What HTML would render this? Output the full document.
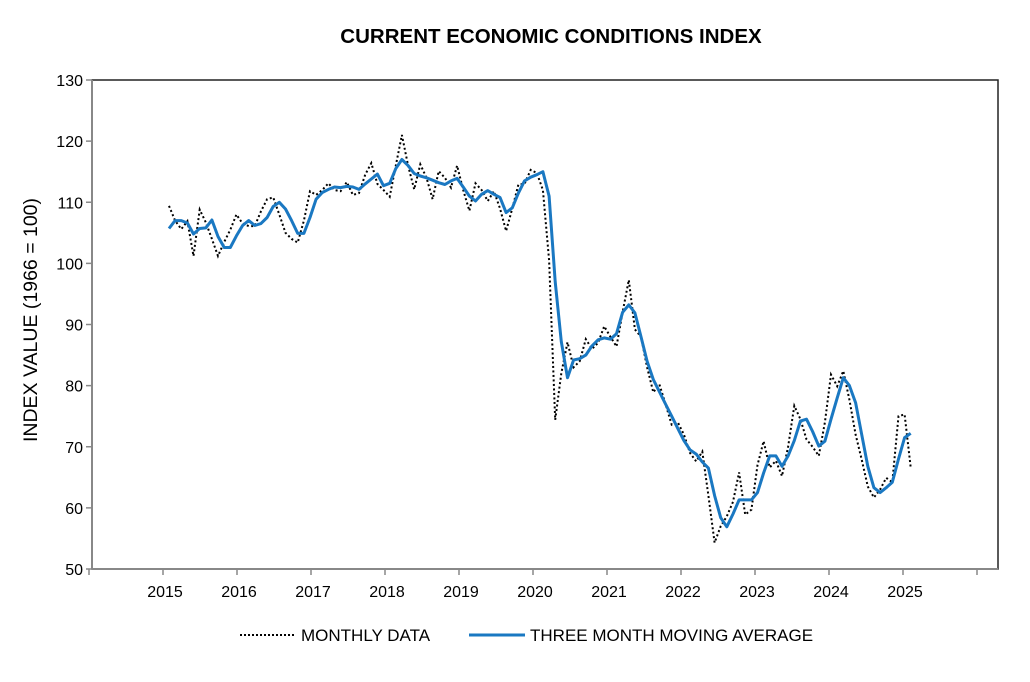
<!DOCTYPE html>
<html><head><meta charset="utf-8">
<style>
html,body{margin:0;padding:0;background:#fff;}
svg{display:block;font-family:"Liberation Sans",Arial,sans-serif;}
</style></head>
<body>
<svg id="chart" width="1030" height="682" viewBox="0 0 1030 682" xmlns="http://www.w3.org/2000/svg">
<text x="551" y="43" text-anchor="middle" font-size="20.5" font-weight="bold">CURRENT ECONOMIC CONDITIONS INDEX</text>
<text transform="translate(37,320) rotate(-90)" text-anchor="middle" font-size="19.5">INDEX VALUE (1966 = 100)</text>
<rect x="92" y="80" width="906" height="489" fill="none" stroke="#222" stroke-width="1.5"/>
<g id="axes"></g>
<g id="series"></g>
<g>
<line x1="240" y1="635" x2="296" y2="635" stroke="#000" stroke-width="2" stroke-dasharray="2,2"/>
<text x="301" y="641" font-size="17">MONTHLY DATA</text>
<line x1="469" y1="635" x2="525" y2="635" stroke="#1a78c2" stroke-width="3"/>
<text x="530" y="641" font-size="17">THREE MONTH MOVING AVERAGE</text>
</g>
</svg>
<script>
const yTicks = [50,60,70,80,90,100,110,120,130];
const xTickLabels = ["2015","2016","2017","2018","2019","2020","2021","2022","2023","2024","2025",""];
const monthly = [109.4,107,105.6,106.9,101.2,108.8,106.7,104,101.2,103.5,105.5,108,
106.5,106.1,106.1,108.5,110.5,110.8,108,105,104,103.4,107,111.8,
111.2,112,113.1,112,111.8,113.3,111.2,111.5,114.5,116.4,113,112,
110.9,116,121,116,112.1,116.2,114,110.5,115.1,114,112.4,116,
112,108.6,113.1,112,110.2,111.8,109,105.3,109,112.9,113,115.3,
114.8,112,100.5,74.4,82,87.1,83,84,87.6,86,87,89.7,
88,86.4,92,97.3,89.2,88,83,78.9,80.2,77,73.6,74,
72,69,67.6,69.2,62,54.3,57,58.6,61,65.8,58.9,59.7,
67,70.9,66.6,67.7,65.2,70,76.7,74.5,71.2,70,68.5,74,
81.8,79.9,82.4,77.7,72,67.9,63.5,61.7,63,64.9,64.2,75,
75.3,66.6];
const movingAvg = [105.7,107,107,106.6,104.8,105.7,105.8,107.1,104.4,102.6,102.6,104.5,
106.2,107,106.2,106.5,107.5,109.3,110,108.9,107,104.9,104.9,107.5,
110.5,111.6,112.1,112.5,112.4,112.6,112.5,112.1,113,113.8,114.6,112.7,
113.1,115.5,117,116,114.7,114.3,114,113.6,113.2,112.9,113.5,113.9,
112.5,111,110.2,111.3,111.9,111.3,110.8,108.3,109.1,111.5,113.5,114.1,
114.5,115,111,97,87.2,81.3,84.2,84.4,85,86.5,87.5,87.8,
87.6,88.5,92,93.2,91.9,88,84,81,79,77,75,73,
71,69.5,68.8,67.5,66.5,62,58.4,56.9,59,61.3,61.3,61.3,
62.5,65.7,68.5,68.5,66.8,68.5,71,74.2,74.5,72.5,70.1,70.9,
74.5,78,81.3,80,77.2,72,66.8,63.3,62.5,63.3,64.2,68,
71.5,72.2];

const NS='http://www.w3.org/2000/svg';
const plotL=92, plotR=998, plotT=80, plotB=569;
function yScale(v){return plotB-(v-50)/(130-50)*(plotB-plotT);}
function xYear(k){return 163+k*74;}
function xMonth(i){return 169+i*6.13;}
function mk(tag,attrs){const e=document.createElementNS(NS,tag);for(const k in attrs)e.setAttribute(k,attrs[k]);return e;}
const axes=document.getElementById('axes');
const la=mk('line',{x1:plotL,y1:plotT,x2:plotL,y2:plotB,stroke:'#888','stroke-width':2});


axes.appendChild(la);
const ba=mk('line',{x1:plotL,y1:plotB,x2:plotR,y2:plotB,stroke:'#888','stroke-width':2});


axes.appendChild(ba);
yTicks.forEach(v=>{
  const y=yScale(v);
  const t=mk('line',{x1:plotL-6,y1:y,x2:plotL,y2:y,stroke:'#888','stroke-width':1.5});
  
  
  axes.appendChild(t);
  const tx=mk('text',{x:plotL-9,y:y+6,'text-anchor':'end','font-size':16});
  
  
  tx.textContent=v;axes.appendChild(tx);
});
for(let k=-1;k<xTickLabels.length;k++){
  const x=xYear(k);
  const t=mk('line',{x1:x,y1:plotB,x2:x,y2:plotB+6,stroke:'#888','stroke-width':1.5});
  
  
  axes.appendChild(t);
  if(k>=0&&xTickLabels[k]){
    const tx=mk('text',{x:x+2,y:plotB+28,'text-anchor':'middle','font-size':16});
    
    
    tx.textContent=xTickLabels[k];axes.appendChild(tx);
  }
}
const series=document.getElementById('series');
function pts(arr){return arr.map((v,i)=>xMonth(i).toFixed(1)+','+yScale(v).toFixed(1)).join(' ');}
const m=mk('polyline',{points:pts(monthly),fill:'none',stroke:'#000','stroke-width':2,'stroke-dasharray':'2,2.5'});


series.appendChild(m);
const a=mk('polyline',{points:pts(movingAvg),fill:'none',stroke:'#1a78c2','stroke-width':3,'stroke-linejoin':'round'});


series.appendChild(a);
</script>
</body></html>
